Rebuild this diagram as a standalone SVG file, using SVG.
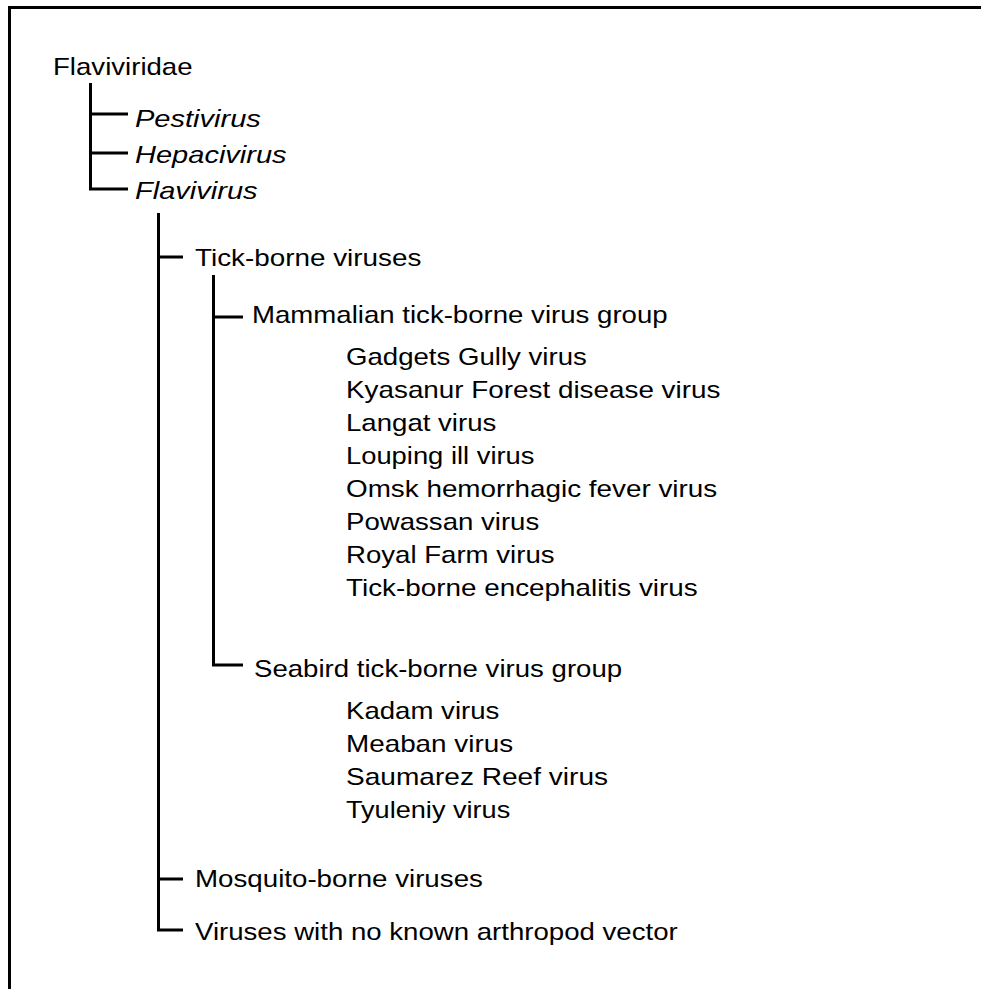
<svg xmlns="http://www.w3.org/2000/svg" width="981" height="989" viewBox="0 0 981 989">
<style>
text{font-family:"Liberation Sans",Arial,sans-serif;font-size:24px;fill:#000}
.i{font-style:italic}
.ln{stroke:#000;stroke-width:3;fill:none}
</style>
<rect width="981" height="989" fill="#fff"/>
<g id="frame"><path class="ln" d="M9.5,989 V7.5 H981"/></g>
<g id="connectors">
<path class="ln" d="M90.5,83 V189 H128 M90.5,114 H128 M90.5,153 H128"/>
<path class="ln" d="M158.5,213 V930 H183 M158.5,257 H183 M158.5,879 H183"/>
<path class="ln" d="M213.5,275 V665 H243 M213.5,317 H243"/>
</g>
<g id="n-flaviviridae"><text transform="translate(53 75) scale(1.15 1)">Flaviviridae</text></g>
<g id="n-pestivirus"><text class="i" transform="translate(135 127) scale(1.21 1)">Pestivirus</text></g>
<g id="n-hepacivirus"><text class="i" transform="translate(135 163) scale(1.21 1)">Hepacivirus</text></g>
<g id="n-flavivirus"><text class="i" transform="translate(135 199) scale(1.21 1)">Flavivirus</text></g>
<g id="n-tick"><text transform="translate(195 266) scale(1.16 1)">Tick-borne viruses</text></g>
<g id="n-mammalian"><text transform="translate(252 323) scale(1.15 1)">Mammalian tick-borne virus group</text></g>
<g id="n-mammalian-list">
<text transform="translate(346 365) scale(1.15 1)">Gadgets Gully virus</text>
<text transform="translate(346 398) scale(1.16 1)">Kyasanur Forest disease virus</text>
<text transform="translate(346 431) scale(1.15 1)">Langat virus</text>
<text transform="translate(346 464) scale(1.14 1)">Louping ill virus</text>
<text transform="translate(346 497) scale(1.16 1)">Omsk hemorrhagic fever virus</text>
<text transform="translate(346 530) scale(1.15 1)">Powassan virus</text>
<text transform="translate(346 563) scale(1.15 1)">Royal Farm virus</text>
<text transform="translate(346 596) scale(1.16 1)">Tick-borne encephalitis virus</text>
</g>
<g id="n-seabird"><text transform="translate(254 677) scale(1.15 1)">Seabird tick-borne virus group</text></g>
<g id="n-seabird-list">
<text transform="translate(346 719) scale(1.15 1)">Kadam virus</text>
<text transform="translate(346 752) scale(1.16 1)">Meaban virus</text>
<text transform="translate(346 785) scale(1.17 1)">Saumarez Reef virus</text>
<text transform="translate(346 818) scale(1.13 1)">Tyuleniy virus</text>
</g>
<g id="n-mosquito"><text transform="translate(195 887) scale(1.155 1)">Mosquito-borne viruses</text></g>
<g id="n-novector"><text transform="translate(195 940) scale(1.15 1)">Viruses with no known arthropod vector</text></g>
</svg>
